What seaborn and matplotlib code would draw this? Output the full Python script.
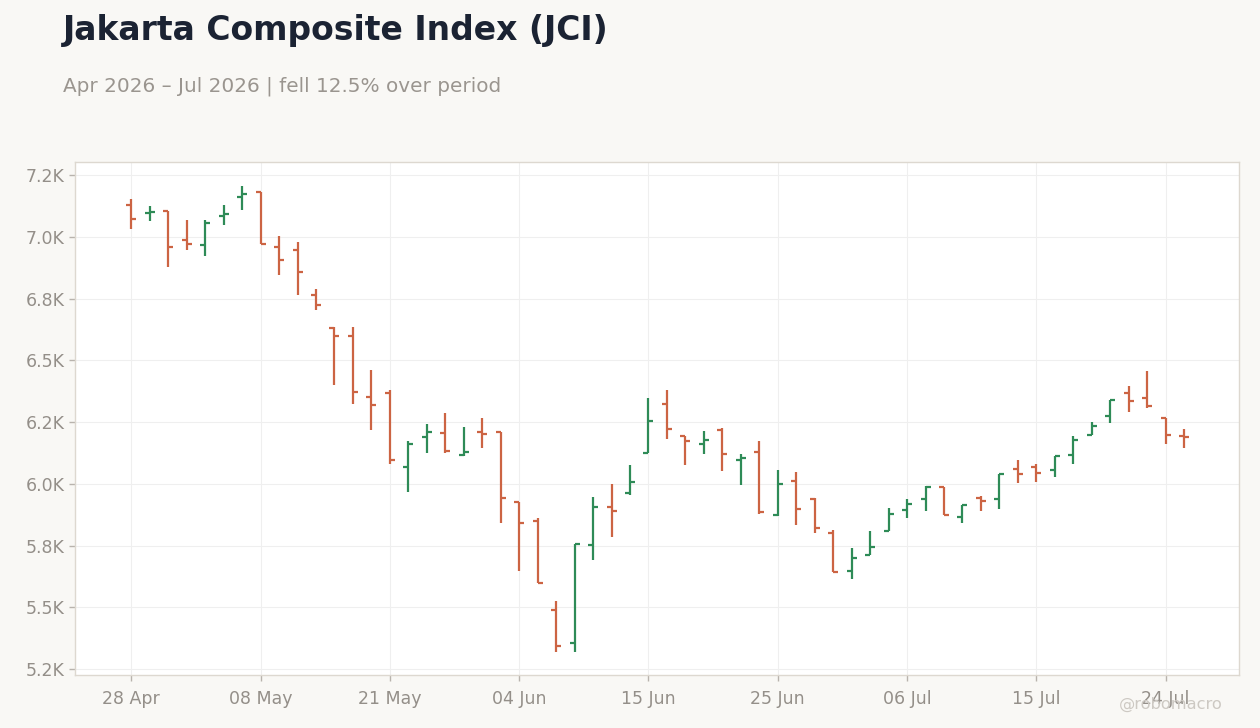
import numpy as np
import pandas as pd
import matplotlib
matplotlib.use("Agg")
import matplotlib.pyplot as plt
import seaborn as sns

# --------------------------------------------------
# Data
# --------------------------------------------------

holidays = ["2026-05-01", "2026-05-14", "2026-05-15", "2026-05-27",
            "2026-05-29", "2026-06-01", "2026-06-17"]
dates = pd.bdate_range("2026-04-28", "2026-07-27")
dates = dates[~dates.isin(pd.to_datetime(holidays))]

opens = [7130, 7096, 7106, 6987, 6968, 7085, 7161, 7182, 6959, 6947,
         6765, 6632, 6600, 6353, 6369, 6070, 6191, 6204, 6115, 6212,
         6212, 5925, 5850, 5490, 5355, 5751, 5908, 5965, 6123, 6325,
         6195, 6163, 6220, 6096, 6131, 5876, 6013, 5937, 5803, 5646,
         5714, 5811, 5896, 5937, 5989, 5867, 5941, 5937, 6062, 6070,
         6058, 6115, 6199, 6276, 6369, 6349, 6268, 6192]
highs = [7153, 7125, 7106, 7068, 7068, 7129, 7205, 7182, 7003, 6979,
         6789, 6635, 6635, 6461, 6380, 6174, 6243, 6287, 6231, 6267,
         6212, 5925, 5861, 5525, 5755, 5947, 5999, 6075, 6348, 6380,
         6195, 6214, 6227, 6121, 6174, 6057, 6049, 5944, 5813, 5741,
         5810, 5903, 5939, 5991, 5989, 5916, 5952, 6042, 6097, 6081,
         6111, 6194, 6251, 6341, 6396, 6457, 6268, 6223]
lows = [7033, 7065, 6879, 6948, 6924, 7049, 7110, 6972, 6847, 6766,
        6705, 6402, 6325, 6220, 6082, 5969, 6127, 6127, 6111, 6147,
        5842, 5649, 5597, 5320, 5320, 5691, 5787, 5957, 6123, 6183,
        6078, 6119, 6054, 5997, 5880, 5868, 5835, 5803, 5644, 5613,
        5714, 5811, 5860, 5892, 5873, 5843, 5892, 5900, 6005, 6009,
        6026, 6082, 6196, 6248, 6289, 6309, 6163, 6147]
closes = [7072, 7101, 6959, 6972, 7057, 7093, 7174, 6972, 6907, 6859,
          6725, 6600, 6373, 6320, 6097, 6163, 6208, 6134, 6131, 6200,
          5943, 5842, 5597, 5344, 5755, 5908, 5891, 6009, 6256, 6224,
          6175, 6179, 6119, 6104, 5887, 6001, 5900, 5823, 5644, 5698,
          5746, 5880, 5920, 5988, 5875, 5916, 5929, 6042, 6042, 6046,
          6111, 6179, 6236, 6341, 6337, 6317, 6199, 6188]

y_ticks = [5250, 5500, 5750, 6000, 6250, 6500, 6750, 7000, 7250]

df = pd.DataFrame({"date": dates, "open": opens, "high": highs,
                   "low": lows, "close": closes})
df["pos"] = np.arange(len(df))

# --------------------------------------------------
# Style
# --------------------------------------------------

BG = "#f9f8f5"
UP = "#2e8b57"
DOWN = "#cc6443"
TEXT = "#948f89"

sns.set_theme(style="whitegrid")
plt.rcParams["font.family"] = ["DejaVu Sans"]

fig, ax = plt.subplots(figsize=(12.6, 7.28), dpi=100)
fig.patch.set_facecolor(BG)
ax.set_facecolor("white")
fig.subplots_adjust(left=0.0595, right=0.983, top=0.7775, bottom=0.073)

# --------------------------------------------------
# OHLC bars
# --------------------------------------------------

colors = np.where(df["close"] >= df["open"], UP, DOWN)
tick = 0.27

ax.vlines(df["pos"], df["low"], df["high"], colors=colors, linewidth=1.6)
ax.hlines(df["open"], df["pos"] - tick, df["pos"], colors=colors, linewidth=1.6)
ax.hlines(df["close"], df["pos"], df["pos"] + tick, colors=colors, linewidth=1.6)

# --------------------------------------------------
# Axes
# --------------------------------------------------

ax.set_xlim(-3.05, 59.95)
ax.set_ylim(5227, 7303)

ax.set_yticks(y_ticks)
ax.set_yticklabels([f"{v / 1000:.1f}K" for v in y_ticks])

xt = df["pos"][::7]
ax.set_xticks(xt)
ax.set_xticklabels([d.strftime("%d %b") for d in df["date"][::7]])

ax.tick_params(axis="both", colors="#b8b3ad", labelcolor=TEXT,
               labelsize=12.5, length=4, width=1, left=True, bottom=True)
ax.tick_params(axis="x", pad=7)
ax.grid(True, color="#efefef", linewidth=0.8)

for spine in ax.spines.values():
    spine.set_color("#ddd8d0")
    spine.set_linewidth(1)

# --------------------------------------------------
# Titles
# --------------------------------------------------

fig.text(0.05, 0.958, "Jakarta Composite Index (JCI)", fontsize=23.8,
         fontweight="bold", color="#1b2333", va="center")
fig.text(0.05, 0.882, "Apr 2026 \u2013 Jul 2026 | fell 12.5% over period",
         fontsize=14.4, color="#9a958f", va="center")
fig.text(0.97, 0.032, "@robomacro", fontsize=11.7, color="#cdc9c3",
         ha="right", va="center")

plt.savefig("out.png", dpi=100, facecolor=BG)
plt.close()
